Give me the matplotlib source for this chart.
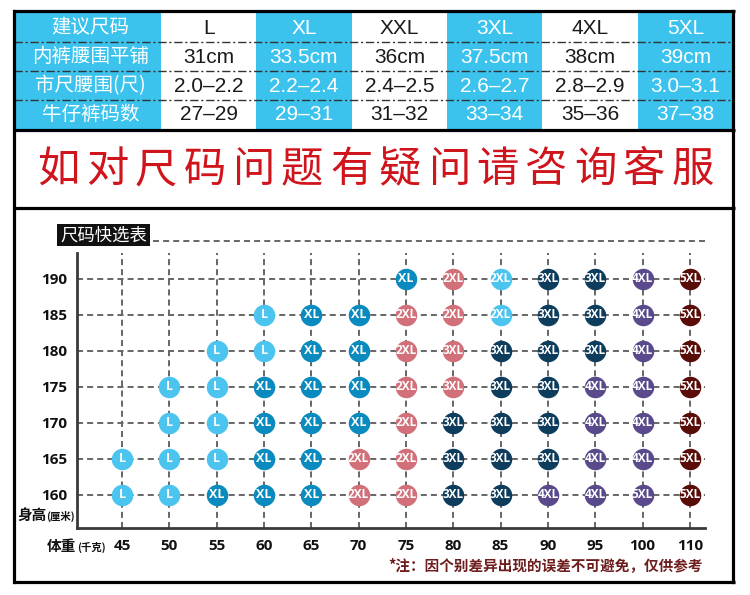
import numpy as np
import matplotlib
matplotlib.use("Agg")
import matplotlib.pyplot as plt
from matplotlib.patches import Rectangle

plt.rcParams['font.family'] = ['Noto Sans CJK SC', 'DejaVu Sans']

# ---- size table ----
row_names = ['建议尺码', '内裤腰围平铺', '市尺腰围(尺)', '牛仔裤码数']
sizes = ['L', 'XL', 'XXL', '3XL', '4XL', '5XL']
waist_flat = ['31cm', '33.5cm', '36cm', '37.5cm', '38cm', '39cm']
waist_chi = ['2.0–2.2', '2.2–2.4', '2.4–2.5', '2.6–2.7', '2.8–2.9', '3.0–3.1']
jeans = ['27–29', '29–31', '31–32', '33–34', '35–36', '37–38']

notice = '如对尺码问题有疑问请咨询客服'
footnote = '*注：因个别差异出现的误差不可避免，仅供参考'

# ---- quick-pick chart ----
weights = ['45', '50', '55', '60', '65', '70', '75', '80', '85', '90', '95', '100', '110']
heights = [190, 185, 180, 175, 170, 165, 160]
labels = [
    ['', '', '', '', '', '', 'XL', '2XL', '2XL', '3XL', '3XL', '4XL', '5XL'],
    ['', '', '', 'L', 'XL', 'XL', '2XL', '2XL', '2XL', '3XL', '3XL', '4XL', '5XL'],
    ['', '', 'L', 'L', 'XL', 'XL', '2XL', '3XL', '3XL', '3XL', '3XL', '4XL', '5XL'],
    ['', 'L', 'L', 'XL', 'XL', 'XL', '2XL', '3XL', '3XL', '3XL', '4XL', '4XL', '5XL'],
    ['', 'L', 'L', 'XL', 'XL', 'XL', '2XL', '3XL', '3XL', '3XL', '4XL', '4XL', '5XL'],
    ['L', 'L', 'L', 'XL', 'XL', '2XL', '2XL', '3XL', '3XL', '3XL', '4XL', '4XL', '5XL'],
    ['L', 'L', 'XL', 'XL', 'XL', '2XL', '2XL', '3XL', '3XL', '4XL', '4XL', '5XL', '5XL'],
]
# dot colour per cell (not always the same as the label in the source)
tones = [
    ['', '', '', '', '', '', 'XL', '2XL', 'L', '3XL', '3XL', '4XL', '5XL'],
    ['', '', '', 'L', 'XL', 'XL', '2XL', '2XL', 'L', '3XL', '3XL', '4XL', '5XL'],
    ['', '', 'L', 'L', 'XL', 'XL', '2XL', '2XL', '3XL', '3XL', '3XL', '4XL', '5XL'],
    ['', 'L', 'L', 'XL', 'XL', 'XL', '2XL', '2XL', '3XL', '3XL', '4XL', '4XL', '5XL'],
    ['', 'L', 'L', 'XL', 'XL', 'XL', '2XL', '3XL', '3XL', '3XL', '4XL', '4XL', '5XL'],
    ['L', 'L', 'L', 'XL', 'XL', '2XL', '2XL', '3XL', '3XL', '3XL', '4XL', '4XL', '5XL'],
    ['L', 'L', 'XL', 'XL', 'XL', '2XL', '2XL', '3XL', '3XL', '4XL', '4XL', '4XL', '5XL'],
]
palette = {'L': '#4cc4f0', 'XL': '#0a8bbf', '2XL': '#d2707a',
           '3XL': '#0e3c5c', '4XL': '#5a4a8c', '5XL': '#5a0d08'}

BLUE = '#3bc3ee'
GRID = '#666666'

fig = plt.figure(figsize=(7.5, 5.95), dpi=100)
bg = fig.add_axes([0, 0, 1, 1])
bg.set_xlim(0, 750); bg.set_ylim(595, 0); bg.axis('off')

# frame
L, R = 14, 733
for y in (11, 130, 208, 582):
    bg.plot([L - 1.5, R + 1.5], [y, y], color='black', lw=2.3, solid_capstyle='butt', zorder=5)
bg.plot([L, L], [11, 582], color='black', lw=2.3, zorder=5)
bg.plot([R, R], [11, 582], color='black', lw=2.3, zorder=5)

# table
first_w = 147
col_w = (R - L - first_w) / len(sizes)
row_edges = [11, 42, 71, 100, 130]
text_y = [29, 57.5, 86.5, 115]
bg.add_patch(Rectangle((L, 11), first_w, 119, color=BLUE, lw=0))
rows = [sizes, waist_flat, waist_chi, jeans]
for i, name in enumerate(row_names):
    bg.text(L + first_w / 2 + 3, text_y[i] - 1, name, color='white', fontsize=14,
            ha='center', va='center')
for j in range(len(sizes)):
    x0 = L + first_w + j * col_w
    blue_col = j % 2 == 1
    if blue_col:
        bg.add_patch(Rectangle((x0, 11), col_w, 119, color=BLUE, lw=0))
    for i, row in enumerate(rows):
        bg.text(x0 + col_w / 2, text_y[i], row[j], color='white' if blue_col else '#1a1a1a',
                fontsize=15, ha='center', va='center', family=['Liberation Sans'])
for y in row_edges[1:-1]:
    bg.plot([L, R], [y, y], color='#333333', lw=1, ls=(0, (6, 2, 1.5, 2)), zorder=4)

# notice, letter-spaced
pitch = (693 - 58) / (len(notice) - 1)
for k, ch in enumerate(notice):
    bg.text(58 + k * pitch, 170, ch, color='#d0141c', fontsize=30.5, ha='center', va='center')

# chart title box + dashed rule
bg.add_patch(Rectangle((57, 224), 93, 22, color='#111111', lw=0))
bg.text(103.5, 235.5, '尺码快选表', color='white', fontsize=12.5, ha='center', va='center')
bg.plot([153, 705], [240.5, 240.5], color=GRID, lw=1.4, ls=(0, (3.1, 2.1)))

# axis captions
bg.text(17, 515, '身高', fontsize=10.5, fontweight='bold', ha='left', va='center', color='#111')
bg.text(46, 516, '(厘米)', fontsize=7.5, fontweight='bold', ha='left', va='center', color='#111')
bg.text(47, 546, '体重', fontsize=10.5, fontweight='bold', ha='left', va='center', color='#111')
bg.text(77, 547, '(千克)', fontsize=7.5, fontweight='bold', ha='left', va='center', color='#111')

bg.text(703, 565, footnote, color='#6e1d1d', fontsize=10.5, fontweight='bold',
        ha='right', va='center')

# chart axes
ax = fig.add_axes([77 / 750, 1 - 528 / 595, 628 / 750, 275 / 595])
ax.patch.set_alpha(0)
x = np.arange(len(weights))
ax.set_xlim(-0.95, 12.32)
ax.set_ylim(155.4, 193.6)
for xi in x:
    ax.axvline(xi, color=GRID, lw=1.4, ls=(0, (3.1, 2.1)), zorder=1)
for h in heights:
    ax.axhline(h, color=GRID, lw=1.4, ls=(0, (3.1, 2.1)), zorder=1)

for i, h in enumerate(heights):
    for j in x:
        lab = labels[i][j]
        if not lab:
            continue
        ax.scatter(j, h, s=240, color=palette[tones[i][j]], lw=0, zorder=3)
        ax.text(j, h, lab, color='white', fontsize=8.5 if len(lab) > 2 else 9,
                fontweight='bold', ha='center', va='center', family=['Open Sans'], zorder=4)

ax.set_xticks(x)
ax.set_xticklabels(weights)
ax.set_yticks(heights)
ax.set_yticklabels([str(h) for h in heights])
ax.tick_params(length=0, labelsize=11, colors='#111111')
ax.tick_params(axis='x', pad=8)
ax.tick_params(axis='y', pad=7)
for t in ax.get_xticklabels() + ax.get_yticklabels():
    t.set_fontweight('bold')
    t.set_family(['Open Sans'])
for s in ('top', 'right'):
    ax.spines[s].set_visible(False)
for s in ('left', 'bottom'):
    ax.spines[s].set_color('#3a3a3a')
    ax.spines[s].set_linewidth(2)

fig.savefig('out.png', dpi=100)
